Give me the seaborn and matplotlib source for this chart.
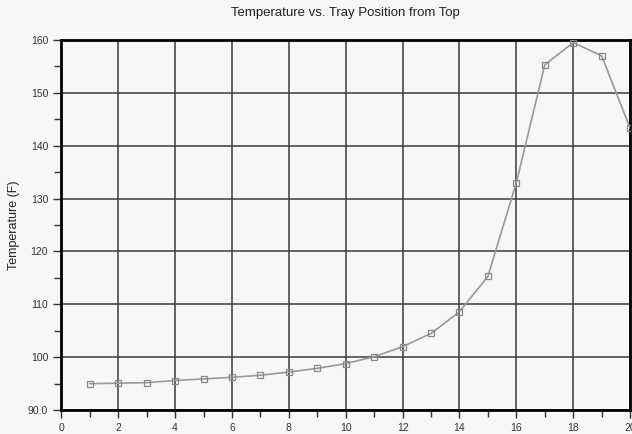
import pandas as pd
import matplotlib.pyplot as plt
import seaborn as sns
from matplotlib.ticker import MultipleLocator

# tray position from top and temperature (F)
tray = list(range(1, 21))
temp = [95.0, 95.1, 95.2, 95.6, 95.9, 96.2, 96.6, 97.2, 97.9, 98.8,
        100.1, 102.0, 104.5, 108.6, 115.3, 133.0, 155.3, 159.5, 157.0, 143.3]

df = pd.DataFrame({"Tray": tray, "Temperature": temp})

sns.set_style("ticks")
plt.rcParams["font.family"] = ["Liberation Sans", "DejaVu Sans"]

bg = "#f7f7f7"
fig = plt.figure(figsize=(6.32, 4.34), dpi=100, facecolor=bg)
ax = fig.add_axes([0.097, 0.055, 0.900, 0.853])
ax.set_facecolor(bg)

sns.lineplot(data=df, x="Tray", y="Temperature", ax=ax, color="#999999",
             linewidth=1.2, marker="s", markersize=4.5, markerfacecolor="none",
             markeredgecolor="#888888", markeredgewidth=0.9, zorder=3)

ax.set_xlim(0, 20)
ax.set_ylim(90, 160)
ax.xaxis.set_major_locator(MultipleLocator(2))
ax.xaxis.set_minor_locator(MultipleLocator(1))
ax.yaxis.set_major_locator(MultipleLocator(10))
ax.yaxis.set_minor_locator(MultipleLocator(5))
ax.set_yticks(range(90, 161, 10))
ax.set_yticklabels(["90.0"] + [str(v) for v in range(100, 161, 10)])

ax.grid(True, which="major", color="#3a3a3a", linewidth=1.1)
for s in ax.spines.values():
    s.set_color("black")
    s.set_linewidth(2.0)

ax.tick_params(which="both", direction="out", color="#333333", width=1.0,
               labelsize=7.5, labelcolor="#333333")
ax.tick_params(which="major", length=6)
ax.tick_params(which="minor", length=5)

ax.set_xlabel("")
ax.set_ylabel("Temperature (F)", fontsize=9, color="#222222", labelpad=6)
ax.set_title("Temperature vs. Tray Position from Top", fontsize=9.5,
             color="#222222", pad=17)

fig.savefig("out.png", dpi=100, facecolor=bg)
